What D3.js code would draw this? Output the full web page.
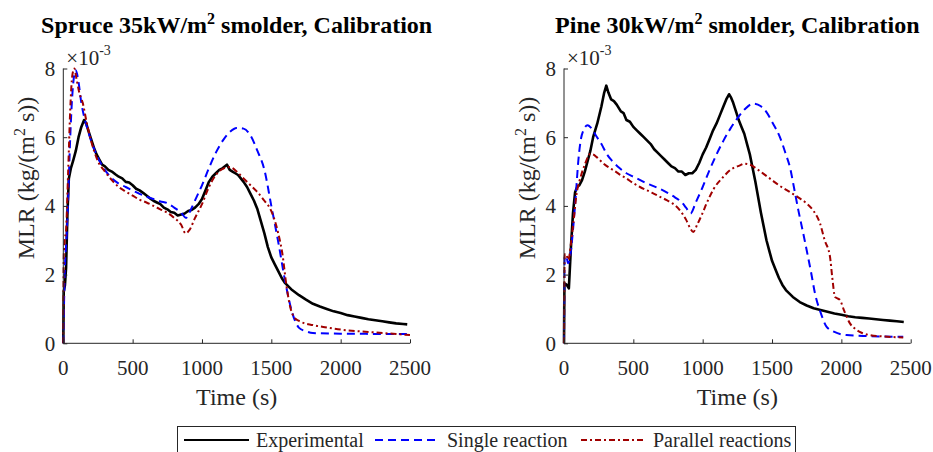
<!DOCTYPE html>
<html>
<head>
<meta charset="utf-8">
<script src="https://cdn.jsdelivr.net/npm/d3@7"></script>
<style>
  body { margin: 0; background: #fff; }
  svg { display: block; }
  text { font-family: "Liberation Serif", "Times New Roman", serif; }
</style>
</head>
<body>
<svg id="chart" width="933" height="452"></svg>
<script>
// values are MLR in units of 1e-3 kg/(m2 s), time in s
const xTicks = [0, 500, 1000, 1500, 2000, 2500];
const yTicks = [0, 2, 4, 6, 8];

const spruceExp = [[0,0],[3,1.5],[12,1.7],[20,2.2],[30,3.8],[40,4.8],[55,5.1],[70,5.3],[90,5.6],[110,6.0],[130,6.3],[150,6.5],[165,6.4],[180,6.2],[200,5.95],[220,5.7],[240,5.5],[260,5.35],[280,5.2],[300,5.15],[325,5.05],[350,5.0],[375,4.92],[400,4.85],[425,4.8],[450,4.7],[475,4.68],[500,4.6],[525,4.5],[550,4.45],[575,4.38],[600,4.3],[625,4.22],[650,4.15],[675,4.1],[700,4.05],[725,3.95],[750,3.9],[775,3.82],[800,3.8],[825,3.72],[850,3.75],[875,3.78],[900,3.85],[925,3.88],[950,3.95],[975,4.05],[1000,4.2],[1025,4.45],[1050,4.7],[1075,4.85],[1100,4.95],[1125,5.05],[1150,5.1],[1180,5.2],[1200,5.05],[1220,5.0],[1240,4.95],[1260,4.9],[1280,4.8],[1300,4.7],[1325,4.55],[1350,4.35],[1375,4.15],[1400,3.9],[1425,3.55],[1450,3.2],[1475,2.8],[1500,2.5],[1525,2.3],[1550,2.1],[1575,1.9],[1600,1.75],[1650,1.55],[1700,1.4],[1750,1.27],[1800,1.15],[1850,1.07],[1900,1.0],[1950,0.93],[2000,0.88],[2050,0.82],[2100,0.78],[2150,0.74],[2200,0.7],[2250,0.67],[2300,0.64],[2350,0.61],[2400,0.58],[2450,0.56],[2480,0.55]];
const spruceSingle = [[0,0],[10,2.0],[25,3.2],[35,4.2],[50,6.0],[70,7.5],[90,7.95],[110,7.6],[130,7.0],[150,6.6],[170,6.3],[200,5.9],[250,5.4],[300,5.05],[350,4.8],[400,4.65],[450,4.55],[500,4.45],[550,4.35],[600,4.27],[650,4.2],[700,4.13],[750,4.08],[800,3.95],[850,3.8],[885,3.65],[920,3.9],[960,4.25],[1000,4.6],[1050,5.1],[1100,5.55],[1150,5.9],[1200,6.15],[1250,6.27],[1300,6.25],[1350,6.05],[1400,5.6],[1450,5.05],[1500,4.0],[1550,2.95],[1600,1.8],[1650,0.9],[1700,0.45],[1750,0.35],[1800,0.3],[2000,0.28],[2500,0.27]];
const sprucePar = [[0,0],[3,2.5],[10,3.0],[20,3.3],[35,5.0],[50,6.8],[65,7.8],[80,8.0],[95,7.7],[115,7.3],[140,7.0],[170,6.4],[200,5.9],[250,5.3],[300,5.0],[350,4.75],[400,4.55],[450,4.42],[500,4.3],[550,4.18],[600,4.1],[650,4.0],[700,3.9],[750,3.8],[800,3.65],[850,3.45],[882,3.2],[910,3.3],[950,3.65],[1000,4.05],[1050,4.55],[1100,4.9],[1150,5.08],[1200,5.13],[1250,5.0],[1300,4.8],[1350,4.6],[1400,4.4],[1450,4.15],[1500,3.85],[1550,3.2],[1580,2.6],[1610,1.65],[1640,1.0],[1670,0.73],[1700,0.65],[1800,0.53],[1900,0.46],[2000,0.4],[2200,0.33],[2400,0.27],[2500,0.24]];

const pineExp = [[0,0],[3,1.75],[20,1.7],[35,1.6],[50,2.8],[65,3.8],[80,4.4],[95,4.55],[110,4.6],[130,4.75],[150,5.0],[170,5.3],[190,5.6],[210,6.0],[240,6.4],[270,6.9],[290,7.3],[305,7.5],[320,7.3],[340,7.1],[360,7.05],[380,6.95],[410,6.75],[430,6.7],[450,6.5],[475,6.45],[500,6.3],[525,6.2],[550,6.1],[575,6.0],[600,5.9],[625,5.8],[650,5.65],[675,5.55],[700,5.45],[725,5.35],[750,5.25],[775,5.15],[800,5.1],[825,5.0],[850,5.0],[875,4.9],[900,4.95],[925,4.95],[950,5.05],[975,5.25],[1000,5.5],[1025,5.7],[1050,5.95],[1075,6.2],[1100,6.4],[1125,6.65],[1150,6.9],[1170,7.1],[1190,7.25],[1205,7.15],[1220,7.0],[1240,6.75],[1260,6.5],[1280,6.3],[1300,6.1],[1320,5.8],[1340,5.5],[1360,5.1],[1380,4.7],[1400,4.25],[1420,3.8],[1440,3.4],[1460,3.0],[1480,2.7],[1500,2.4],[1525,2.15],[1550,1.9],[1575,1.7],[1600,1.55],[1650,1.35],[1700,1.2],[1750,1.1],[1800,1.02],[1850,0.97],[1900,0.92],[1950,0.87],[2000,0.83],[2050,0.79],[2100,0.76],[2150,0.74],[2200,0.72],[2250,0.7],[2300,0.68],[2350,0.66],[2400,0.64],[2450,0.62]];
const pineSingle = [[0,0],[5,2.5],[15,2.55],[30,2.33],[50,2.7],[67,3.4],[85,4.3],[103,5.3],[120,5.9],[140,6.2],[170,6.35],[200,6.25],[230,6.05],[270,5.8],[310,5.5],[350,5.3],[400,5.1],[450,4.95],[500,4.85],[550,4.75],[600,4.65],[650,4.57],[700,4.48],[750,4.37],[800,4.25],[850,4.1],[880,3.95],[913,3.78],[950,4.1],[1000,4.55],[1050,5.05],[1100,5.5],[1150,5.9],[1200,6.25],[1250,6.55],[1300,6.8],[1365,6.98],[1420,6.9],[1460,6.73],[1500,6.45],[1557,6.0],[1600,5.5],[1629,5.13],[1660,4.5],[1690,3.87],[1720,3.3],[1750,2.71],[1780,2.1],[1810,1.45],[1850,0.9],[1894,0.48],[1950,0.33],[2038,0.24],[2200,0.21],[2446,0.19]];
const pinePar = [[0,0],[5,2.6],[15,2.6],[31,2.42],[50,2.9],[67,3.49],[91,4.36],[110,4.7],[127,4.94],[150,5.2],[175,5.45],[190,5.52],[210,5.5],[236,5.42],[280,5.25],[320,5.13],[356,5.04],[400,4.92],[450,4.8],[500,4.66],[548,4.55],[600,4.45],[650,4.35],[700,4.25],[740,4.17],[780,4.08],[836,3.87],[880,3.6],[910,3.35],[932,3.24],[960,3.45],[1000,3.8],[1028,4.07],[1080,4.5],[1148,4.84],[1200,5.05],[1269,5.18],[1300,5.23],[1340,5.2],[1400,5.05],[1437,4.94],[1500,4.75],[1550,4.6],[1606,4.46],[1650,4.35],[1700,4.22],[1750,4.07],[1800,3.85],[1846,3.49],[1880,3.0],[1918,2.52],[1935,1.9],[1954,1.35],[1975,1.3],[1990,1.26],[2020,0.95],[2062,0.58],[2100,0.42],[2150,0.3],[2206,0.24],[2300,0.2],[2446,0.17]];

const panels = [
  { name: 'Spruce 35kW/m', x0: 63.3, exp: spruceExp, single: spruceSingle, par: sprucePar },
  { name: 'Pine 30kW/m', x0: 564, exp: pineExp, single: pineSingle, par: pinePar }
];

const series = [
  { key: 'exp', label: 'Experimental', color: '#000', dash: null, width: 2.6 },
  { key: 'single', label: 'Single reaction', color: '#0000ff', dash: '8,5', width: 2 },
  { key: 'par', label: 'Parallel reactions', color: '#a00000', dash: '6,3,2,3', width: 2 }
];

const svg = d3.select('#chart');
const plotW = 346.7, yTop = 68.5, yBottom = 343.3;
const axisColor = '#262626';

panels.forEach(p => {
  const x = d3.scaleLinear().domain([0, 2500]).range([p.x0, p.x0 + plotW]);
  const y = d3.scaleLinear().domain([0, 8]).range([yBottom, yTop]);
  const g = svg.append('g');

  // title
  const t = g.append('text')
    .attr('x', p.x0 + plotW / 2).attr('y', 33)
    .attr('text-anchor', 'middle')
    .attr('font-size', 24).attr('font-weight', 'bold');
  t.append('tspan').text(p.name);
  t.append('tspan').attr('font-size', 16).attr('dy', -9).text('2');
  t.append('tspan').attr('dy', 9).text(' smolder, Calibration');

  // lines
  series.forEach(s => {
    const line = d3.line()
      .x(d => x(d[0])).y(d => y(d[1]))
      .curve(s.key === 'exp' ? d3.curveLinear : d3.curveMonotoneX);
    g.append('path')
      .datum(p[s.key])
      .attr('d', line)
      .attr('fill', 'none')
      .attr('stroke', s.color)
      .attr('stroke-width', s.width)
      .attr('stroke-dasharray', s.dash)
      .attr('stroke-linejoin', 'round');
  });

  // axes, ticks pointing inward
  const xAxis = g.append('g')
    .attr('transform', `translate(0,${yBottom})`)
    .call(d3.axisTop(x).tickValues(xTicks).tickSize(4).tickFormat(''));
  xAxis.select('.domain').attr('d', `M${p.x0},0H${p.x0 + plotW}`);
  xAxis.selectAll('line, path').attr('stroke', axisColor);
  xTicks.forEach(v => {
    g.append('text')
      .attr('x', x(v)).attr('y', 375)
      .attr('text-anchor', 'middle')
      .attr('font-size', 21).attr('fill', axisColor)
      .text(v);
  });

  const yAxis = g.append('g')
    .attr('transform', `translate(${p.x0},0)`)
    .call(d3.axisRight(y).tickValues(yTicks).tickSize(4).tickFormat(''));
  yAxis.select('.domain').attr('d', `M0,${yTop}V${yBottom}`);
  yAxis.selectAll('line, path').attr('stroke', axisColor);
  yTicks.forEach(v => {
    g.append('text')
      .attr('x', p.x0 - 8).attr('y', y(v))
      .attr('dy', '0.35em')
      .attr('text-anchor', 'end')
      .attr('font-size', 21).attr('fill', axisColor)
      .text(v);
  });

  // exponent
  const e = g.append('text')
    .attr('x', p.x0 + 3).attr('y', 65)
    .attr('font-size', 21).attr('fill', axisColor);
  e.append('tspan').text('\u00d710');
  e.append('tspan').attr('font-size', 14).attr('dy', -10).text('-3');

  // axis labels
  g.append('text')
    .attr('x', p.x0 + plotW / 2).attr('y', 405)
    .attr('text-anchor', 'middle')
    .attr('font-size', 24).attr('fill', axisColor)
    .text('Time (s)');

  const yl = g.append('text')
    .attr('transform', `translate(${p.x0 - 29},178) rotate(-90)`)
    .attr('text-anchor', 'middle')
    .attr('font-size', 24).attr('fill', axisColor);
  yl.append('tspan').text('MLR (kg/(m');
  yl.append('tspan').attr('font-size', 16).attr('dy', -9).text('2');
  yl.append('tspan').attr('dy', 9).text(' s))');
});

// legend
const legend = svg.append('g');
legend.append('rect')
  .attr('x', 177.5).attr('y', 426.5)
  .attr('width', 618).attr('height', 40)
  .attr('fill', '#fff').attr('stroke', axisColor);

const legendX = [184, 375, 581];
series.forEach((s, i) => {
  legend.append('line')
    .attr('x1', legendX[i]).attr('x2', legendX[i] + 65)
    .attr('y1', 440).attr('y2', 440)
    .attr('stroke', s.color)
    .attr('stroke-width', s.key === 'exp' ? 2 : s.width)
    .attr('stroke-dasharray', s.dash);
  legend.append('text')
    .attr('x', legendX[i] + 72).attr('y', 447)
    .attr('font-size', 20).attr('fill', axisColor)
    .text(s.label);
});
</script>
</body>
</html>
